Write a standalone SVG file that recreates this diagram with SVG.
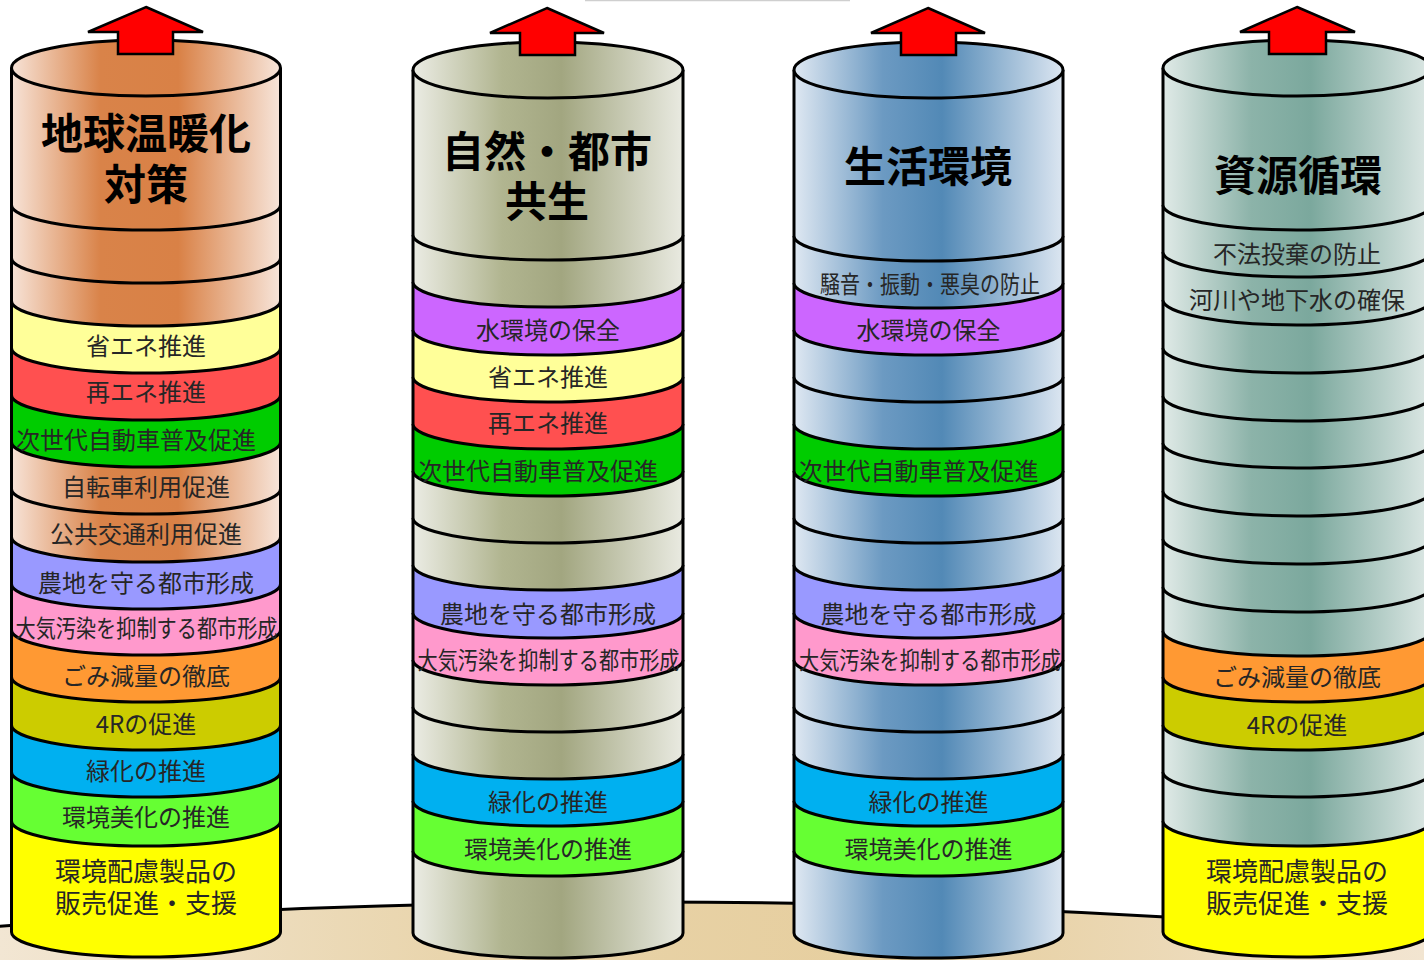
<svg xmlns="http://www.w3.org/2000/svg" width="1424" height="960" viewBox="0 0 1424 960">
<defs>
<style>
.b{stroke:#000;stroke-width:3;stroke-linejoin:round}
.top{stroke:#000;stroke-width:3}
.t{font-family:"Noto Sans CJK JP","Noto Sans",sans-serif;font-size:24px;fill:#262626;text-anchor:middle;dominant-baseline:central}
.h{font-size:42px;font-weight:bold;fill:#000}
.big{font-size:26px}
.arr{fill:#FF0000;stroke:#000;stroke-width:2.5;stroke-linejoin:miter}
</style>
<linearGradient id="g1" x1="0" y1="0" x2="1" y2="0">
<stop offset="0" stop-color="#F7E3D7"/><stop offset="0.33" stop-color="#D98349"/><stop offset="0.62" stop-color="#D98146"/><stop offset="1" stop-color="#F7E5DA"/>
</linearGradient>
<linearGradient id="g2" x1="0" y1="0" x2="1" y2="0">
<stop offset="0" stop-color="#EBECE4"/><stop offset="0.33" stop-color="#B1B590"/><stop offset="0.55" stop-color="#A2A680"/><stop offset="1" stop-color="#E9EAE1"/>
</linearGradient>
<linearGradient id="g3" x1="0" y1="0" x2="1" y2="0">
<stop offset="0" stop-color="#DFE8F2"/><stop offset="0.33" stop-color="#6C9AC2"/><stop offset="0.55" stop-color="#5289B6"/><stop offset="1" stop-color="#DCE6F1"/>
</linearGradient>
<linearGradient id="g4" x1="0" y1="0" x2="1" y2="0">
<stop offset="0" stop-color="#E0EAE7"/><stop offset="0.33" stop-color="#8CB3A9"/><stop offset="0.55" stop-color="#7BA89D"/><stop offset="1" stop-color="#DDE8E5"/>
</linearGradient>
<linearGradient id="gg" gradientUnits="userSpaceOnUse" x1="0" y1="0" x2="1424" y2="0">
<stop offset="0" stop-color="#F2E6D3"/><stop offset="0.35" stop-color="#E8D3A8"/><stop offset="0.65" stop-color="#E6CE9E"/><stop offset="1" stop-color="#F2E5D1"/>
</linearGradient>
</defs>
<rect width="1424" height="960" fill="#fff"/>
<line x1="585" y1="0.5" x2="850" y2="0.5" stroke="#cfcfcf" stroke-width="1.5"/>
<g id="ground">
<ellipse cx="650" cy="1115" rx="1400" ry="213" fill="url(#gg)" stroke="#000" stroke-width="3"/>
</g>

<g id="cyl1">
<path class="b" fill="#FFFF00" d="M11.5,821 V932 A134.5,25 0 0 0 280.5,932 V821"/>
<path class="b" fill="#66FF33" d="M11.5,772 V821 A134.5,25 0 0 0 280.5,821 V772"/>
<path class="b" fill="#00B0F0" d="M11.5,725 V772 A134.5,25 0 0 0 280.5,772 V725"/>
<path class="b" fill="#CCCC00" d="M11.5,677 V725 A134.5,25 0 0 0 280.5,725 V677"/>
<path class="b" fill="#FF9933" d="M11.5,630 V677 A134.5,25 0 0 0 280.5,677 V630"/>
<path class="b" fill="#FF99CC" d="M11.5,584 V630 A134.5,25 0 0 0 280.5,630 V584"/>
<path class="b" fill="#9999FF" d="M11.5,537 V584 A134.5,25 0 0 0 280.5,584 V537"/>
<path class="b" fill="url(#g1)" d="M11.5,489 V537 A134.5,25 0 0 0 280.5,537 V489"/>
<path class="b" fill="url(#g1)" d="M11.5,442 V489 A134.5,25 0 0 0 280.5,489 V442"/>
<path class="b" fill="#00CC00" d="M11.5,395 V442 A134.5,25 0 0 0 280.5,442 V395"/>
<path class="b" fill="#FF5050" d="M11.5,348 V395 A134.5,25 0 0 0 280.5,395 V348"/>
<path class="b" fill="#FFFF99" d="M11.5,301 V348 A134.5,25 0 0 0 280.5,348 V301"/>
<path class="b" fill="url(#g1)" d="M11.5,258 V301 A134.5,25 0 0 0 280.5,301 V258"/>
<path class="b" fill="url(#g1)" d="M11.5,205 V258 A134.5,25 0 0 0 280.5,258 V205"/>
<path class="b" fill="url(#g1)" d="M11.5,68 V205 A134.5,25 0 0 0 280.5,205 V68"/>
<ellipse class="top" cx="146" cy="68" rx="134.5" ry="28" fill="url(#g1)"/>
<text class="t h" x="146" y="130"><tspan x="146" y="130">地球温暖化</tspan><tspan x="146" y="181">対策</tspan></text>
<text class="t" x="146" y="344">省エネ推進</text>
<text class="t" x="146" y="390">再エネ推進</text>
<text class="t" x="136" y="438">次世代自動車普及促進</text>
<text class="t" x="146" y="485">自転車利用促進</text>
<text class="t" x="146" y="532">公共交通利用促進</text>
<text class="t" x="146" y="581">農地を守る都市形成</text>
<text class="t" x="146.5" y="626" textLength="262" lengthAdjust="spacingAndGlyphs">大気汚染を抑制する都市形成</text>
<text class="t" x="146" y="674">ごみ減量の徹底</text>
<text class="t" x="146" y="722">4Rの促進</text>
<text class="t" x="146" y="769">緑化の推進</text>
<text class="t" x="146" y="815">環境美化の推進</text>
<text class="t big" x="146" y="869"><tspan x="146" y="869">環境配慮製品の</tspan><tspan x="146" y="901">販売促進・支援</tspan></text>
</g>

<g id="cyl2">
<path class="b" fill="url(#g2)" d="M413,851 V933 A135,25 0 0 0 683,933 V851"/>
<path class="b" fill="#66FF33" d="M413,801 V851 A135,25 0 0 0 683,851 V801"/>
<path class="b" fill="#00B0F0" d="M413,754 V801 A135,25 0 0 0 683,801 V754"/>
<path class="b" fill="url(#g2)" d="M413,707 V754 A135,25 0 0 0 683,754 V707"/>
<path class="b" fill="url(#g2)" d="M413,660 V707 A135,25 0 0 0 683,707 V660"/>
<path class="b" fill="#FF99CC" d="M413,613 V660 A135,25 0 0 0 683,660 V613"/>
<path class="b" fill="#9999FF" d="M413,565 V613 A135,25 0 0 0 683,613 V565"/>
<path class="b" fill="url(#g2)" d="M413,518 V565 A135,25 0 0 0 683,565 V518"/>
<path class="b" fill="url(#g2)" d="M413,471 V518 A135,25 0 0 0 683,518 V471"/>
<path class="b" fill="#00CC00" d="M413,424 V471 A135,25 0 0 0 683,471 V424"/>
<path class="b" fill="#FF5050" d="M413,377 V424 A135,25 0 0 0 683,424 V377"/>
<path class="b" fill="#FFFF99" d="M413,330 V377 A135,25 0 0 0 683,377 V330"/>
<path class="b" fill="#CC66FF" d="M413,282 V330 A135,25 0 0 0 683,330 V282"/>
<path class="b" fill="url(#g2)" d="M413,235 V282 A135,25 0 0 0 683,282 V235"/>
<path class="b" fill="url(#g2)" d="M413,70 V235 A135,25 0 0 0 683,235 V70"/>
<ellipse class="top" cx="548" cy="70" rx="135" ry="28" fill="url(#g2)"/>
<text class="t h" x="547" y="148"><tspan x="547" y="148">自然・都市</tspan><tspan x="547" y="198">共生</tspan></text>
<text class="t" x="548" y="328">水環境の保全</text>
<text class="t" x="548" y="375">省エネ推進</text>
<text class="t" x="548" y="421">再エネ推進</text>
<text class="t" x="538" y="469">次世代自動車普及促進</text>
<text class="t" x="548" y="612">農地を守る都市形成</text>
<text class="t" x="548.5" y="658" textLength="262" lengthAdjust="spacingAndGlyphs">大気汚染を抑制する都市形成</text>
<text class="t" x="548" y="800">緑化の推進</text>
<text class="t" x="548" y="847">環境美化の推進</text>
</g>

<g id="cyl3">
<path class="b" fill="url(#g3)" d="M794,851 V933 A134.5,25 0 0 0 1063,933 V851"/>
<path class="b" fill="#66FF33" d="M794,801 V851 A134.5,25 0 0 0 1063,851 V801"/>
<path class="b" fill="#00B0F0" d="M794,754 V801 A134.5,25 0 0 0 1063,801 V754"/>
<path class="b" fill="url(#g3)" d="M794,707 V754 A134.5,25 0 0 0 1063,754 V707"/>
<path class="b" fill="url(#g3)" d="M794,660 V707 A134.5,25 0 0 0 1063,707 V660"/>
<path class="b" fill="#FF99CC" d="M794,613 V660 A134.5,25 0 0 0 1063,660 V613"/>
<path class="b" fill="#9999FF" d="M794,565 V613 A134.5,25 0 0 0 1063,613 V565"/>
<path class="b" fill="url(#g3)" d="M794,518 V565 A134.5,25 0 0 0 1063,565 V518"/>
<path class="b" fill="url(#g3)" d="M794,471 V518 A134.5,25 0 0 0 1063,518 V471"/>
<path class="b" fill="#00CC00" d="M794,424 V471 A134.5,25 0 0 0 1063,471 V424"/>
<path class="b" fill="url(#g3)" d="M794,377 V424 A134.5,25 0 0 0 1063,424 V377"/>
<path class="b" fill="url(#g3)" d="M794,330 V377 A134.5,25 0 0 0 1063,377 V330"/>
<path class="b" fill="#CC66FF" d="M794,283 V330 A134.5,25 0 0 0 1063,330 V283"/>
<path class="b" fill="url(#g3)" d="M794,236 V283 A134.5,25 0 0 0 1063,283 V236"/>
<path class="b" fill="url(#g3)" d="M794,70 V236 A134.5,25 0 0 0 1063,236 V70"/>
<ellipse class="top" cx="928.5" cy="70" rx="134.5" ry="28" fill="url(#g3)"/>
<text class="t h" x="928" y="163">生活環境</text>
<text class="t" x="930" y="282" textLength="220" lengthAdjust="spacingAndGlyphs">騒音・振動・悪臭の防止</text>
<text class="t" x="928.5" y="328">水環境の保全</text>
<text class="t" x="918.5" y="469">次世代自動車普及促進</text>
<text class="t" x="928.5" y="612">農地を守る都市形成</text>
<text class="t" x="930" y="658" textLength="262" lengthAdjust="spacingAndGlyphs">大気汚染を抑制する都市形成</text>
<text class="t" x="928.5" y="800">緑化の推進</text>
<text class="t" x="928.5" y="847">環境美化の推進</text>
</g>

<g id="cyl4">
<path class="b" fill="#FFFF00" d="M1163,821 V932 A134,25 0 0 0 1431,932 V821"/>
<path class="b" fill="url(#g4)" d="M1163,772 V821 A134,25 0 0 0 1431,821 V772"/>
<path class="b" fill="url(#g4)" d="M1163,725 V772 A134,25 0 0 0 1431,772 V725"/>
<path class="b" fill="#CCCC00" d="M1163,677 V725 A134,25 0 0 0 1431,725 V677"/>
<path class="b" fill="#FF9933" d="M1163,631 V677 A134,25 0 0 0 1431,677 V631"/>
<path class="b" fill="url(#g4)" d="M1163,587 V631 A134,25 0 0 0 1431,631 V587"/>
<path class="b" fill="url(#g4)" d="M1163,539 V587 A134,25 0 0 0 1431,587 V539"/>
<path class="b" fill="url(#g4)" d="M1163,491 V539 A134,25 0 0 0 1431,539 V491"/>
<path class="b" fill="url(#g4)" d="M1163,443 V491 A134,25 0 0 0 1431,491 V443"/>
<path class="b" fill="url(#g4)" d="M1163,396 V443 A134,25 0 0 0 1431,443 V396"/>
<path class="b" fill="url(#g4)" d="M1163,348 V396 A134,25 0 0 0 1431,396 V348"/>
<path class="b" fill="url(#g4)" d="M1163,300 V348 A134,25 0 0 0 1431,348 V300"/>
<path class="b" fill="url(#g4)" d="M1163,252 V300 A134,25 0 0 0 1431,300 V252"/>
<path class="b" fill="url(#g4)" d="M1163,205 V252 A134,25 0 0 0 1431,252 V205"/>
<path class="b" fill="url(#g4)" d="M1163,68 V205 A134,25 0 0 0 1431,205 V68"/>
<ellipse class="top" cx="1297" cy="68" rx="134" ry="28" fill="url(#g4)"/>
<text class="t h" x="1298" y="172">資源循環</text>
<text class="t" x="1297" y="252">不法投棄の防止</text>
<text class="t" x="1297" y="298">河川や地下水の確保</text>
<text class="t" x="1297" y="675">ごみ減量の徹底</text>
<text class="t" x="1297" y="723">4Rの促進</text>
<text class="t big" x="1297" y="869"><tspan x="1297" y="869">環境配慮製品の</tspan><tspan x="1297" y="901">販売促進・支援</tspan></text>
</g>

<g id="arrows">
<path class="arr" d="M146,7 L203,32 L173,32 L173,54 L118,54 L118,32 L88,32 Z"/>
<path class="arr" d="M547,8 L604,33 L575,33 L575,55 L520,55 L520,33 L490,33 Z"/>
<path class="arr" d="M928,8 L985,33 L956,33 L956,55 L901,55 L901,33 L871,33 Z"/>
<path class="arr" d="M1297,7 L1355,32 L1326,32 L1326,54 L1269,54 L1269,32 L1240,32 Z"/>
</g>
</svg>
